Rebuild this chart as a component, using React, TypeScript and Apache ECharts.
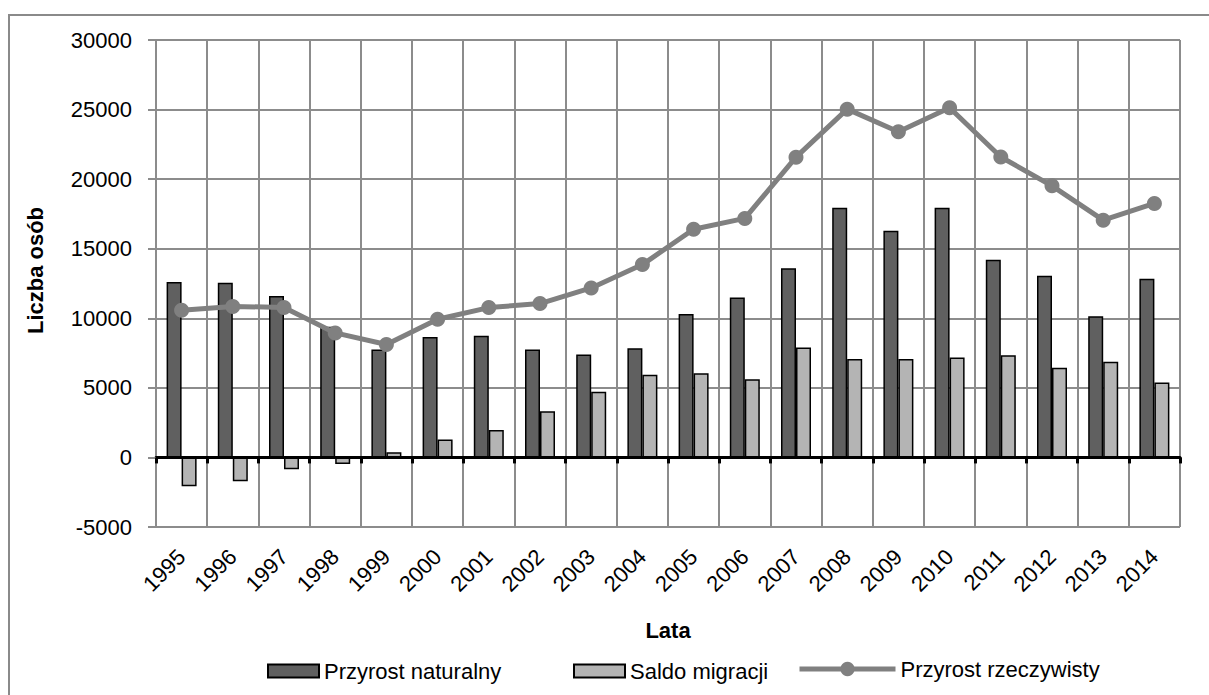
import React, { useEffect, useRef } from "react";
import * as echarts from "echarts";

const years = ["1995","1996","1997","1998","1999","2000","2001","2002","2003","2004","2005","2006","2007","2008","2009","2010","2011","2012","2013","2014"];
const natural = [12600, 12550, 11600, 9400, 7750, 8650, 8750, 7750, 7400, 7850, 10300, 11500, 13600, 17950, 16300, 17950, 14200, 13050, 10150, 12850];
const migration = [-2080, -1720, -850, -480, 380, 1280, 1980, 3320, 4720, 5950, 6050, 5620, 7900, 7080, 7080, 7180, 7350, 6450, 6880, 5380];
const real = [10580, 10850, 10780, 8950, 8120, 9930, 10770, 11060, 12180, 13860, 16400, 17180, 21580, 25030, 23400, 25130, 21590, 19520, 17050, 18250];
const seriesNames = ["Przyrost naturalny", "Saldo migracji", "Przyrost rzeczywisty"];

const FONT = "'Liberation Sans', Arial, sans-serif";
const FS = 22;

export default function App() {
  const ref = useRef<HTMLDivElement>(null);
  useEffect(() => {
    document.body.style.margin = "0";
    const chart = echarts.init(ref.current!, null, { renderer: "svg" });
    const legendText = { fontFamily: FONT, fontSize: FS, color: "#000" };
    chart.setOption({
      animation: false,
      textStyle: { fontFamily: FONT },
      graphic: [
        {
          type: "rect",
          shape: { x: 9, y: 15, width: 1300, height: 700 },
          style: { fill: "none", stroke: "#8a8a8a", lineWidth: 2 },
          silent: true,
        },
      ],
      grid: { left: 156, right: 29, top: 40, bottom: 168, containLabel: false, outerBoundsMode: "none" },
      legend: [
        {
          data: [seriesNames[0]], left: 267, top: 660, padding: 0, itemWidth: 51, itemHeight: 13,
          textStyle: legendText, itemGap: 2, icon: "rect",
        },
        {
          data: [seriesNames[1]], left: 573, top: 660, padding: 0, itemWidth: 51, itemHeight: 13,
          textStyle: legendText, itemGap: 2, icon: "rect",
        },
        {
          data: [seriesNames[2]], left: 797, top: 658, padding: 0, itemWidth: 96, itemHeight: 18,
          textStyle: legendText, itemGap: 2,
          lineStyle: { width: 5, color: "#808080" },
          itemStyle: { color: "#808080" },
        },
      ],
      xAxis: {
        type: "category",
        data: years,
        boundaryGap: true,
        name: "Lata",
        nameLocation: "middle",
        nameGap: 92,
        nameTextStyle: { fontFamily: FONT, fontSize: FS, fontWeight: "bold", color: "#000" },
        axisLine: { onZero: true, lineStyle: { color: "#000", width: 3 } },
        axisTick: { show: true, length: 6, lineStyle: { color: "#000", width: 3 } },
        axisLabel: { rotate: 45, margin: 26, fontSize: FS, color: "#000", fontFamily: FONT },
        splitLine: { show: true, lineStyle: { color: "#8c8c8c", width: 2 } },
      },
      yAxis: {
        type: "value",
        min: -5000,
        max: 30000,
        interval: 5000,
        name: "Liczba osób",
        nameLocation: "middle",
        nameRotate: 90,
        nameGap: 110,
        nameTextStyle: {
          fontFamily: FONT, fontSize: FS, fontWeight: "bold", color: "#000",
          padding: [0, 0, 0, 26],
        },
        axisLine: { show: true, lineStyle: { color: "#8c8c8c", width: 2 } },
        axisTick: { show: true, length: 8, lineStyle: { color: "#8c8c8c", width: 2 } },
        axisLabel: {
          margin: 24, fontSize: FS, color: "#000", fontFamily: FONT,
          formatter: (v: number) => String(v),
        },
        splitLine: { show: true, lineStyle: { color: "#8c8c8c", width: 2 } },
      },
      series: [
        {
          name: seriesNames[0], type: "bar", data: natural, barWidth: 15, barGap: "0%",
          itemStyle: { color: "#606060", borderColor: "#000", borderWidth: 1.5 },
        },
        {
          name: seriesNames[1], type: "bar", data: migration, barWidth: 15, barGap: "0%",
          itemStyle: { color: "#b4b4b4", borderColor: "#000", borderWidth: 1.5 },
        },
        {
          name: seriesNames[2], type: "line", data: real, symbol: "circle", symbolSize: 15,
          lineStyle: { color: "#808080", width: 5 },
          itemStyle: { color: "#808080" },
          z: 5,
        },
      ],
    });
    return () => chart.dispose();
  }, []);
  return <div ref={ref} style={{ width: 1209, height: 695 }} />;
}
